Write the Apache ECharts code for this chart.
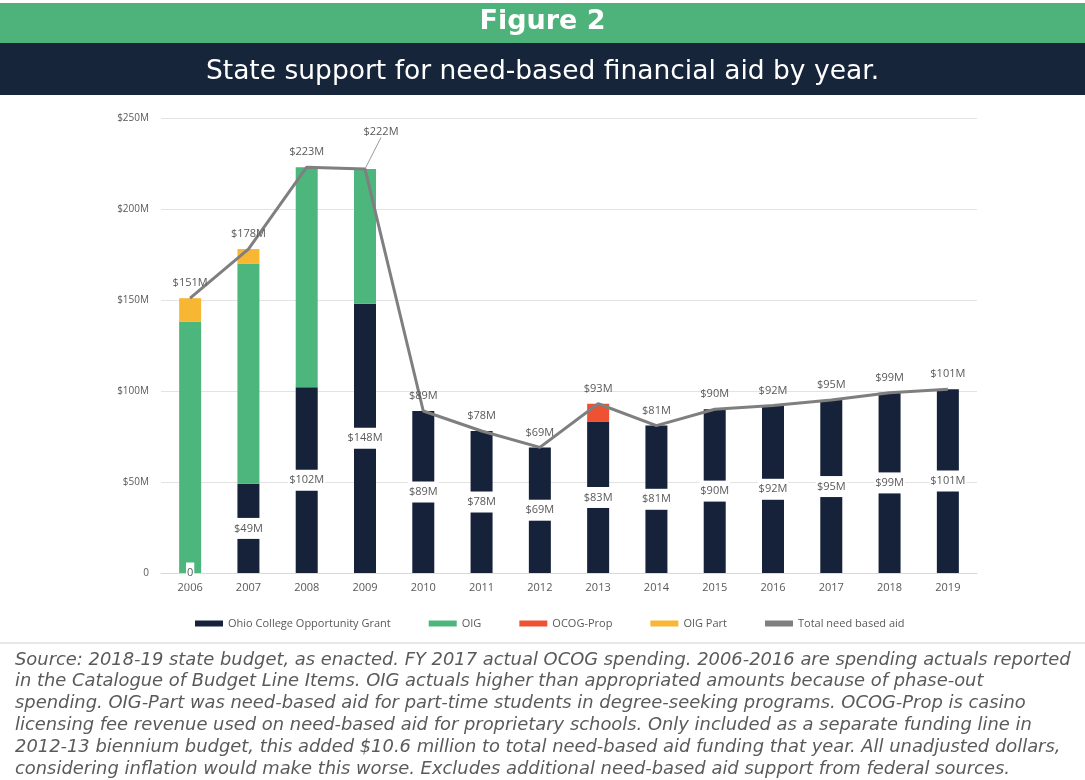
<!DOCTYPE html>
<html><head><meta charset="utf-8">
<script src="https://cdn.jsdelivr.net/npm/echarts@6/dist/echarts.min.js"></script>
<style>html,body{margin:0;padding:0;background:#fff}#c{width:1085px;height:780px}</style>
</head><body><div id="c"></div>
<script>
const years = ['2006','2007','2008','2009','2010','2011','2012','2013','2014','2015','2016','2017','2018','2019'];
const ocog = [0,49,102,148,89,78,69,83,81,90,92,95,99,101];
const oig = [138,121,121,74,0,0,0,0,0,0,0,0,0,0];
const ocogProp = [0,0,0,0,0,0,0,10,0,0,0,0,0,0];
const oigPart = [13,8,0,0,0,0,0,0,0,0,0,0,0,0];
const total = [151,178,223,222,89,78,69,93,81,90,92,95,99,101];
const yTicks = [0,50,100,150,200,250];
const figureLabel = 'Figure 2';
const titleText = 'State support for need-based financial aid by year.';
const sourceLines = [
 'Source: 2018-19 state budget, as enacted. FY 2017 actual OCOG spending. 2006-2016 are spending actuals reported',
 'in the Catalogue of Budget Line Items. OIG actuals higher than appropriated amounts because of phase-out',
 'spending. OIG-Part was need-based aid for part-time students in degree-seeking programs. OCOG-Prop is casino',
 'licensing fee revenue used on need-based aid for proprietary schools. Only included as a separate funding line in',
 '2012-13 biennium budget, this added $10.6 million to total need-based aid funding that year. All unadjusted dollars,',
 'considering inflation would make this worse. Excludes additional need-based aid support from federal sources.'
];

const chart = echarts.init(document.getElementById('c'), null, {renderer:'canvas'});
const fmt = v => v === 0 ? '0' : '$' + v + 'M';
const hideZero = arr => arr.map(v => v === 0 ? null : v);

const srcGraphics = sourceLines.map((t,i) => ({
  type:'text', left: 15, top: 651 + i*21.8,
  style:{text:t, fill:'#5a5a5a', font:'oblique 17.9px "DejaVu Sans", sans-serif'}
}));

chart.setOption({
  animation:false,
  textStyle:{fontFamily:'"Open Sans", sans-serif'},
  graphic:[
    {type:'rect', left:0, top:3, shape:{width:1085, height:40}, style:{fill:'#4db37a'}},
    {type:'rect', left:0, top:43, shape:{width:1085, height:52}, style:{fill:'#17253a'}},
    {type:'line', shape:{x1:0,y1:643,x2:1085,y2:643}, style:{stroke:'#d0d0d0', lineWidth:1}},
    ...srcGraphics
  ],
  title:[
    {text:figureLabel, left:'center', top:3, textStyle:{color:'#fff', fontSize:27, fontWeight:'bold', fontFamily:'"DejaVu Sans", sans-serif'}},
    {text:titleText, left:'center', top:54, textStyle:{color:'#fff', fontSize:26.5, fontWeight:'normal', fontFamily:'"DejaVu Sans", sans-serif'}}
  ],
  grid:{left:161, right:108, top:118, bottom:207},
  legend:{
    left:190, top:613, icon:'rect', itemWidth:28, itemHeight:6, itemGap:38,
    textStyle:{color:'#595959', fontSize:11},
    data:['Ohio College Opportunity Grant','OIG','OCOG-Prop','OIG Part','Total need based aid']
  },
  xAxis:{
    type:'category', data:years,
    axisLine:{lineStyle:{color:'#d9d9d9'}}, axisTick:{show:false},
    axisLabel:{color:'#595959', fontSize:11, margin:9}
  },
  yAxis:{
    type:'value', min:0, max:250, interval:50,
    axisLabel:{color:'#595959', fontSize:10, formatter: fmt, margin:12},
    splitLine:{lineStyle:{color:'#e3e3e3'}}, axisLine:{show:false}, axisTick:{show:false}
  },
  series:[
    {name:'Ohio College Opportunity Grant', type:'bar', stack:'a', barWidth:22, data:ocog,
     itemStyle:{color:'#16223a'},
     label:{show:true, position:'inside', formatter:p=>fmt(p.value), color:'#595959', fontSize:11,
            backgroundColor:'#fff', padding:[4,1], lineHeight:13}},
    {name:'OIG', type:'bar', stack:'a', barWidth:22, data:hideZero(oig), itemStyle:{color:'#4cb67c'}},
    {name:'OCOG-Prop', type:'bar', stack:'a', barWidth:22, data:hideZero(ocogProp), itemStyle:{color:'#ef5133'}},
    {name:'OIG Part', type:'bar', stack:'a', barWidth:22, data:hideZero(oigPart), itemStyle:{color:'#f7b733'}},
    {name:'Total need based aid', type:'line', data:total.map((v,i)=> i===3 ? {value:v, labelLine:{show:true}} : v),
     symbol:'circle', symbolSize:1, showSymbol:true,
     lineStyle:{color:'#7f7f7f', width:3}, itemStyle:{color:'#7f7f7f'},
     label:{show:true, position:'top', formatter:p=>fmt(p.value), color:'#595959', fontSize:11, distance:9},
     labelLine:{lineStyle:{color:'#999', width:1}},
     labelLayout: p => p.dataIndex === 3 ? {dx:16, dy:-22} : {}
    }
  ]
});
</script></body></html>
